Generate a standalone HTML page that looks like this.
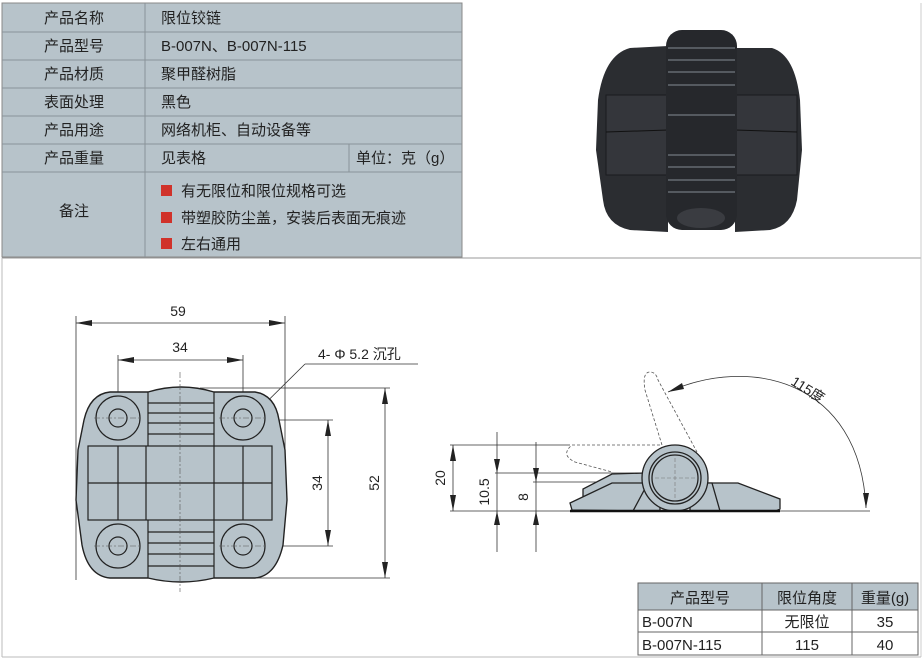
<!DOCTYPE html>
<html><head><meta charset="utf-8"><style>
body{margin:0;width:923px;height:660px;background:#fff;overflow:hidden;font-family:"Liberation Sans","Noto Sans CJK SC",sans-serif;}
svg{position:absolute;left:0;top:0}
text{font-family:"Liberation Sans","Noto Sans CJK SC",sans-serif;fill:#222}
</style></head><body>
<svg width="923" height="660" viewBox="0 0 923 660">
<!-- top table -->
<rect x="2" y="3" width="460" height="254" fill="#b7c3ca" stroke="#888" stroke-width="1"/>
<g stroke="#8a9399" stroke-width="1">
<line x1="2" y1="32" x2="462" y2="32"/><line x1="2" y1="60" x2="462" y2="60"/><line x1="2" y1="88" x2="462" y2="88"/><line x1="2" y1="116" x2="462" y2="116"/><line x1="2" y1="144" x2="462" y2="144"/><line x1="2" y1="172" x2="462" y2="172"/>
<line x1="145" y1="3" x2="145" y2="257"/><line x1="349" y1="144" x2="349" y2="172"/>
</g>
<line x1="2" y1="258" x2="921" y2="258" stroke="#999"/>
<line x1="921" y1="3" x2="921" y2="657" stroke="#ccc"/>
<line x1="2" y1="258" x2="2" y2="657" stroke="#bbb"/>
<line x1="2" y1="657" x2="921" y2="657" stroke="#bbb"/>
<g font-size="15">
<text x="74" y="23" text-anchor="middle">产品名称</text>
<text x="74" y="51" text-anchor="middle">产品型号</text>
<text x="74" y="79" text-anchor="middle">产品材质</text>
<text x="74" y="107" text-anchor="middle">表面处理</text>
<text x="74" y="135" text-anchor="middle">产品用途</text>
<text x="74" y="163" text-anchor="middle">产品重量</text>
<text x="74" y="216" text-anchor="middle">备注</text>
<text x="161" y="23">限位铰链</text>
<text x="161" y="51">B-007N、B-007N-115</text>
<text x="161" y="79">聚甲醛树脂</text>
<text x="161" y="107">黑色</text>
<text x="161" y="135">网络机柜、自动设备等</text>
<text x="161" y="163">见表格</text>
<text x="356" y="163">单位：克（g）</text>
<text x="181" y="196">有无限位和限位规格可选</text>
<text x="181" y="223">带塑胶防尘盖，安装后表面无痕迹</text>
<text x="181" y="249">左右通用</text>
</g>
<rect x="161" y="185" width="11" height="11" fill="#d0322a"/>
<rect x="161" y="212" width="11" height="11" fill="#d0322a"/>
<rect x="161" y="238" width="11" height="11" fill="#d0322a"/>

<!-- photo -->
<g>
<path d="M630,48 L668,46 L668,232 L630,230 Q606,225 603,200 L596,150 L598,100 Q604,55 630,48Z" fill="#2b2d31"/>
<path d="M735,48 L772,48 Q795,55 800,100 L802,150 L797,200 Q792,226 770,230 L735,232Z" fill="#2b2d31"/>
<rect x="606" y="95" width="62" height="80" fill="#34363b" stroke="#1a1b1e"/>
<rect x="735" y="95" width="62" height="80" fill="#34363b" stroke="#1a1b1e"/>
<line x1="606" y1="132" x2="668" y2="130" stroke="#111"/><line x1="735" y1="130" x2="797" y2="132" stroke="#111"/>
<rect x="666" y="30" width="71" height="200" rx="16" fill="#26282c"/>
<g stroke="#555a60" stroke-width="2"><line x1="668" y1="48" x2="735" y2="48"/><line x1="668" y1="60" x2="735" y2="60"/><line x1="668" y1="72" x2="735" y2="72"/><line x1="668" y1="85" x2="735" y2="85"/><line x1="668" y1="115" x2="735" y2="115"/><line x1="668" y1="155" x2="735" y2="155"/><line x1="668" y1="167" x2="735" y2="167"/><line x1="668" y1="180" x2="735" y2="180"/><line x1="668" y1="192" x2="735" y2="192"/></g>
<ellipse cx="701" cy="218" rx="24" ry="10" fill="#3a3c41"/>
</g>

<!-- front view -->
<g stroke="#333" fill="none" stroke-width="0.8">
<line x1="76" y1="316" x2="76" y2="580"/><line x1="285" y1="316" x2="285" y2="450"/>
<line x1="76" y1="323" x2="285" y2="323"/>
<line x1="118" y1="355" x2="118" y2="420"/><line x1="243" y1="355" x2="243" y2="420"/>
<line x1="118" y1="360" x2="243" y2="360"/>
<line x1="275" y1="420" x2="333" y2="420"/><line x1="275" y1="546" x2="333" y2="546"/>
<line x1="328" y1="420" x2="328" y2="546"/>
<line x1="200" y1="388" x2="390" y2="388"/><line x1="200" y1="578" x2="390" y2="578"/>
<line x1="385" y1="388" x2="385" y2="578"/>
<line x1="210" y1="458" x2="305" y2="364"/><line x1="305" y1="364" x2="418" y2="364"/>
</g>
<g fill="#222">
<path d="M76,323 l16,-3 v6z"/><path d="M285,323 l-16,-3 v6z"/>
<path d="M118,360 l16,-3 v6z"/><path d="M243,360 l-16,-3 v6z"/>
<path d="M328,420 l-3,16 h6z"/><path d="M328,546 l-3,-16 h6z"/>
<path d="M385,388 l-3,16 h6z"/><path d="M385,578 l-3,-16 h6z"/>
<path d="M265,400 l-10,4 l4,5z"/><path d="M228,438 l10,-4 l-4,-5z"/>
</g>
<path d="M110,392 L148,392 Q181,382 214,392 L255,392 Q275,395 279,420 L285,450 L287,500 L283,545 Q276,576 255,578 L214,578 Q181,586 148,578 L110,578 Q88,576 82,545 L76,500 L78,450 L84,420 Q90,394 110,392Z" fill="#b7c3ca" stroke="#222" stroke-width="1.4"/>
<g stroke="#222" fill="none" stroke-width="1.2">
<rect x="88" y="446" width="184" height="74"/>
<line x1="88" y1="483" x2="272" y2="483"/>
<line x1="118" y1="446" x2="118" y2="520"/><line x1="146" y1="446" x2="146" y2="520"/><line x1="214" y1="446" x2="214" y2="520"/><line x1="243" y1="446" x2="243" y2="520"/>
<line x1="148" y1="392" x2="148" y2="446"/><line x1="214" y1="392" x2="214" y2="446"/>
<line x1="148" y1="520" x2="148" y2="578"/><line x1="214" y1="520" x2="214" y2="578"/>
<line x1="148" y1="403" x2="214" y2="403"/><line x1="148" y1="413" x2="214" y2="413"/><line x1="148" y1="423" x2="214" y2="423"/><line x1="148" y1="434" x2="214" y2="434"/>
<line x1="148" y1="532" x2="214" y2="532"/><line x1="148" y1="543" x2="214" y2="543"/><line x1="148" y1="554" x2="214" y2="554"/><line x1="148" y1="566" x2="214" y2="566"/>
<circle cx="118" cy="418" r="22"/><circle cx="118" cy="418" r="9"/>
<circle cx="243" cy="418" r="22"/><circle cx="243" cy="418" r="9"/>
<circle cx="118" cy="546" r="22"/><circle cx="118" cy="546" r="9"/>
<circle cx="243" cy="546" r="22"/><circle cx="243" cy="546" r="9"/>
</g>
<g stroke="#555" stroke-width="0.6" stroke-dasharray="6,2,2,2" fill="none">
<line x1="180" y1="372" x2="180" y2="592"/>
<line x1="94" y1="418" x2="142" y2="418"/><line x1="219" y1="418" x2="267" y2="418"/>
<line x1="94" y1="546" x2="142" y2="546"/><line x1="219" y1="546" x2="267" y2="546"/>
</g>
<g font-size="14">
<text x="178" y="316" text-anchor="middle">59</text>
<text x="180" y="352" text-anchor="middle">34</text>
<text x="318" y="359">4- Φ 5.2 沉孔</text>
<text transform="translate(322,483) rotate(-90)" text-anchor="middle">34</text>
<text transform="translate(379,483) rotate(-90)" text-anchor="middle">52</text>
</g>

<!-- side view -->
<g stroke="#333" fill="none" stroke-width="0.8">
<line x1="450" y1="445" x2="570" y2="445"/>
<line x1="495" y1="473" x2="645" y2="473"/>
<line x1="533" y1="482" x2="615" y2="482"/>
<line x1="450" y1="511" x2="870" y2="511"/>
<line x1="453" y1="445" x2="453" y2="511"/>
<line x1="497" y1="432" x2="497" y2="552"/>
<line x1="536" y1="442" x2="536" y2="552"/>
<path d="M668,392 C750,355 860,380 866,508"/>
</g>
<g fill="#222">
<path d="M453,445 l-3,16 h6z"/><path d="M453,511 l-3,-16 h6z"/>
<path d="M497,473 l-3,-14 h6z"/><path d="M497,511 l-3,14 h6z"/>
<path d="M536,482 l-3,-14 h6z"/><path d="M536,511 l-3,14 h6z"/>
<path d="M866,508 l-3,-15 h6z"/><path d="M668,392 l14,-9 l2,6z"/>
</g>
<g stroke="#555" stroke-width="0.8" stroke-dasharray="3,2" fill="none">
<path d="M660,445 L572,445 Q560,455 575,462 L612,472"/>
<path d="M662,445 L645,390 Q642,372 650,372 Q656,372 658,380 L697,452"/>
</g>
<g stroke="#222" stroke-width="1.3" fill="#b7c3ca">
<path d="M583,497 L583,489 L612,474 L645,473 L650,483 L612,484Z"/>
<path d="M572,510 L570,503 L612,483 L648,483 L640,511Z"/>
<path d="M700,483 L738,483 L780,499 L780,509 L776,511 L712,511Z"/>
<path d="M648,483 L660,483 L660,511 L633,511Z"/>
<path d="M690,483 L712,483 L720,511 L690,511Z"/>
<circle cx="675" cy="478" r="33"/>
<circle cx="675" cy="478" r="26" fill="none"/>
<circle cx="675" cy="478" r="23" fill="none"/>
</g>
<line x1="570" y1="511" x2="780" y2="511" stroke="#111" stroke-width="2.5"/>
<g stroke="#777" stroke-width="0.6" stroke-dasharray="4,2" fill="none"><line x1="675" y1="458" x2="675" y2="500"/><line x1="655" y1="478" x2="697" y2="478"/></g>
<g font-size="14">
<text transform="translate(445,478) rotate(-90)" text-anchor="middle">20</text>
<text transform="translate(489,492) rotate(-90)" text-anchor="middle">10.5</text>
<text transform="translate(528,497) rotate(-90)" text-anchor="middle">8</text>
<text transform="translate(790,384) rotate(32)">115度</text>
</g>

<!-- bottom table -->
<rect x="638" y="583" width="280" height="27" fill="#b7c3ca"/>
<g stroke="#666" stroke-width="1" fill="none">
<rect x="638" y="583" width="280" height="72"/>
<line x1="638" y1="610" x2="918" y2="610"/><line x1="638" y1="632" x2="918" y2="632"/>
<line x1="762" y1="583" x2="762" y2="655"/><line x1="852" y1="583" x2="852" y2="655"/>
</g>
<g font-size="15">
<text x="700" y="603" text-anchor="middle">产品型号</text>
<text x="807" y="603" text-anchor="middle">限位角度</text>
<text x="885" y="603" text-anchor="middle">重量(g)</text>
<text x="642" y="627">B-007N</text>
<text x="807" y="627" text-anchor="middle">无限位</text>
<text x="885" y="627" text-anchor="middle">35</text>
<text x="642" y="650">B-007N-115</text>
<text x="807" y="650" text-anchor="middle">115</text>
<text x="885" y="650" text-anchor="middle">40</text>
</g>
</svg>
</body></html>
